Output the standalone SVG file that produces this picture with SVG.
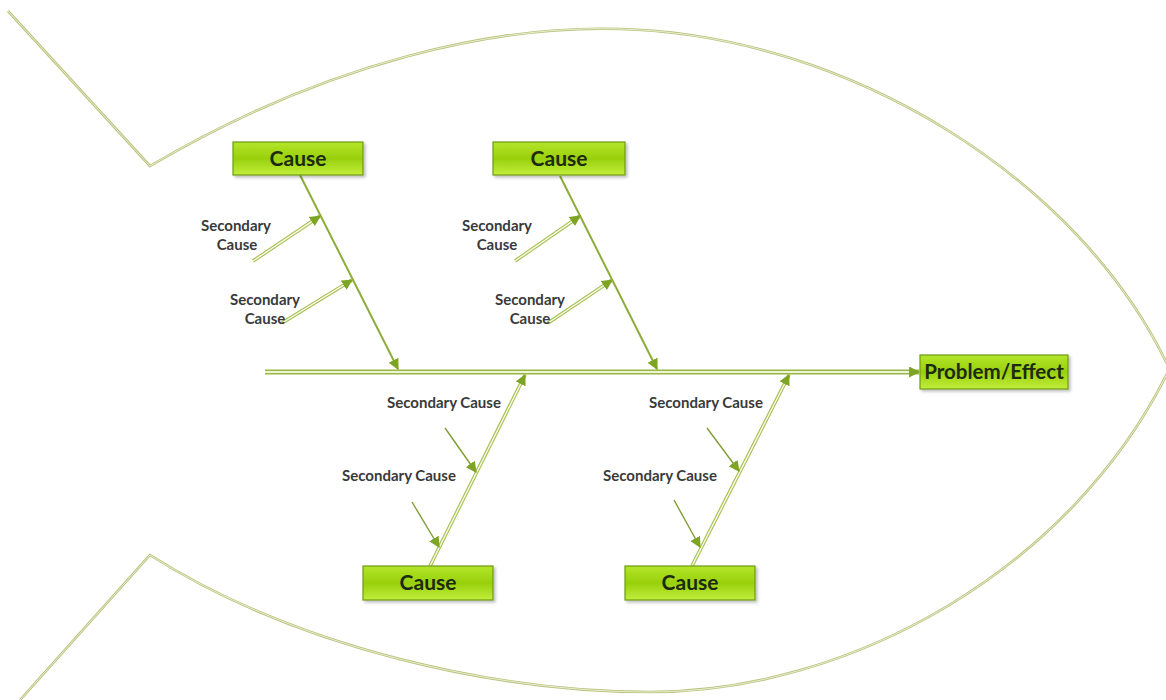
<svg xmlns="http://www.w3.org/2000/svg" width="1166" height="700" viewBox="0 0 1166 700">
<defs>
<linearGradient id="boxg" x1="0" y1="0" x2="0" y2="1">
<stop offset="0" stop-color="#b4e62a"/>
<stop offset="0.5" stop-color="#98d00c"/>
<stop offset="1" stop-color="#c2ee3c"/>
</linearGradient>
<filter id="sh" x="-10%" y="-20%" width="130%" height="150%">
<feDropShadow dx="2" dy="2" stdDeviation="1.5" flood-color="#000" flood-opacity="0.25"/>
</filter>
<marker id="ah" viewBox="0 0 10 10" refX="9" refY="5" markerWidth="11" markerHeight="11" markerUnits="userSpaceOnUse" orient="auto">
<path d="M0,0 L10,5 L0,10 z" fill="#7ea424"/>
</marker>
</defs>
<style>
.fish{fill:none;stroke:#b9c27c;stroke-width:2.6}
.fishin{fill:none;stroke:#f6f8e4;stroke-width:0.8}
.solid{fill:none;stroke:#8eac3a;stroke-width:2}
.thin{fill:none;stroke:#7f9e34;stroke-width:1.4}
.dout{fill:none;stroke:#a6bf52;stroke-width:3.6}
.din{fill:none;stroke:#f8fbe8;stroke-width:1.4}
.sout{fill:none;stroke:#9ab548;stroke-width:5}
.sin{fill:none;stroke:#eef5d2;stroke-width:2}
.box{fill:url(#boxg);stroke:#6e9a14;stroke-width:1.2;filter:url(#sh)}
.bt{font-family:Lato,"Liberation Sans",sans-serif;font-weight:bold;font-size:21px;fill:#1c2a10;text-anchor:middle}
.bt2{font-family:Lato,"Liberation Sans",sans-serif;font-weight:bold;font-size:20.5px;fill:#1c2a10;text-anchor:middle}
.st{font-family:Lato,"Liberation Sans",sans-serif;font-weight:bold;font-size:15px;fill:#3a3a3a;text-anchor:middle}
</style>
<rect width="1166" height="700" fill="#ffffff"/>
<g id="fish">
<path class="fish" d="M8,11 L150,166 C330,60 500,25 620,29 C850,35 1080,180 1168,366"/>
<path class="fish" d="M20,700 L150,555 C300,650 500,692 650,692 C850,692 1070,570 1168,372"/>
<path class="fishin" d="M8,11 L150,166 C330,60 500,25 620,29 C850,35 1080,180 1168,366"/>
<path class="fishin" d="M20,700 L150,555 C300,650 500,692 650,692 C850,692 1070,570 1168,372"/>
</g>
<g id="connectors">
<line class="sout" x1="265" y1="372" x2="919" y2="372" marker-end="url(#ah)"/>
<line class="sin" x1="265" y1="372" x2="909" y2="372"/>
<line class="solid" x1="300" y1="175" x2="398" y2="369" marker-end="url(#ah)"/>
<line class="solid" x1="560" y1="176" x2="657" y2="369" marker-end="url(#ah)"/>
<line class="dout" x1="430" y1="566" x2="525" y2="375" marker-end="url(#ah)"/>
<line class="din" x1="430" y1="566" x2="520.6" y2="384"/>
<line class="dout" x1="692" y1="566" x2="789" y2="375" marker-end="url(#ah)"/>
<line class="din" x1="692" y1="566" x2="784.5" y2="384"/>
<line class="dout" x1="253" y1="261" x2="320" y2="216" marker-end="url(#ah)"/>
<line class="din" x1="253" y1="261" x2="311.7" y2="221.6"/>
<line class="dout" x1="282" y1="323" x2="352" y2="280" marker-end="url(#ah)"/>
<line class="din" x1="282" y1="323" x2="343.5" y2="285.2"/>
<line class="dout" x1="515" y1="261" x2="580" y2="216" marker-end="url(#ah)"/>
<line class="din" x1="515" y1="261" x2="571.8" y2="221.7"/>
<line class="dout" x1="548" y1="323" x2="612" y2="280" marker-end="url(#ah)"/>
<line class="din" x1="548" y1="323" x2="603.7" y2="285.6"/>
<line class="thin" x1="445" y1="428" x2="476" y2="472" marker-end="url(#ah)"/>
<line class="thin" x1="412" y1="502" x2="439" y2="547" marker-end="url(#ah)"/>
<line class="thin" x1="707" y1="428" x2="739" y2="471" marker-end="url(#ah)"/>
<line class="thin" x1="674" y1="500" x2="700" y2="547" marker-end="url(#ah)"/>
</g>
<g id="effect">
<rect class="box" x="920" y="355" width="148" height="34"/>
<text class="bt2" x="994" y="379">Problem/Effect</text>
</g>
<g id="cause1">
<rect class="box" x="233" y="142" width="130" height="33"/>
<text class="bt" x="298" y="166">Cause</text>
</g>
<g id="cause2">
<rect class="box" x="493" y="142" width="132" height="33"/>
<text class="bt" x="559" y="166">Cause</text>
</g>
<g id="cause3">
<rect class="box" x="363" y="566" width="130" height="34"/>
<text class="bt" x="428" y="590">Cause</text>
</g>
<g id="cause4">
<rect class="box" x="625" y="566" width="130" height="34"/>
<text class="bt" x="690" y="590">Cause</text>
</g>
<g id="secondary-labels">
<text class="st" x="236" y="231">Secondary</text>
<text class="st" x="237" y="250">Cause</text>
<text class="st" x="265" y="305">Secondary</text>
<text class="st" x="265" y="324">Cause</text>
<text class="st" x="497" y="231">Secondary</text>
<text class="st" x="497" y="250">Cause</text>
<text class="st" x="530" y="305">Secondary</text>
<text class="st" x="530" y="324">Cause</text>
<text class="st" x="444" y="408">Secondary Cause</text>
<text class="st" x="399" y="481">Secondary Cause</text>
<text class="st" x="706" y="408">Secondary Cause</text>
<text class="st" x="660" y="481">Secondary Cause</text>
</g>
</svg>
